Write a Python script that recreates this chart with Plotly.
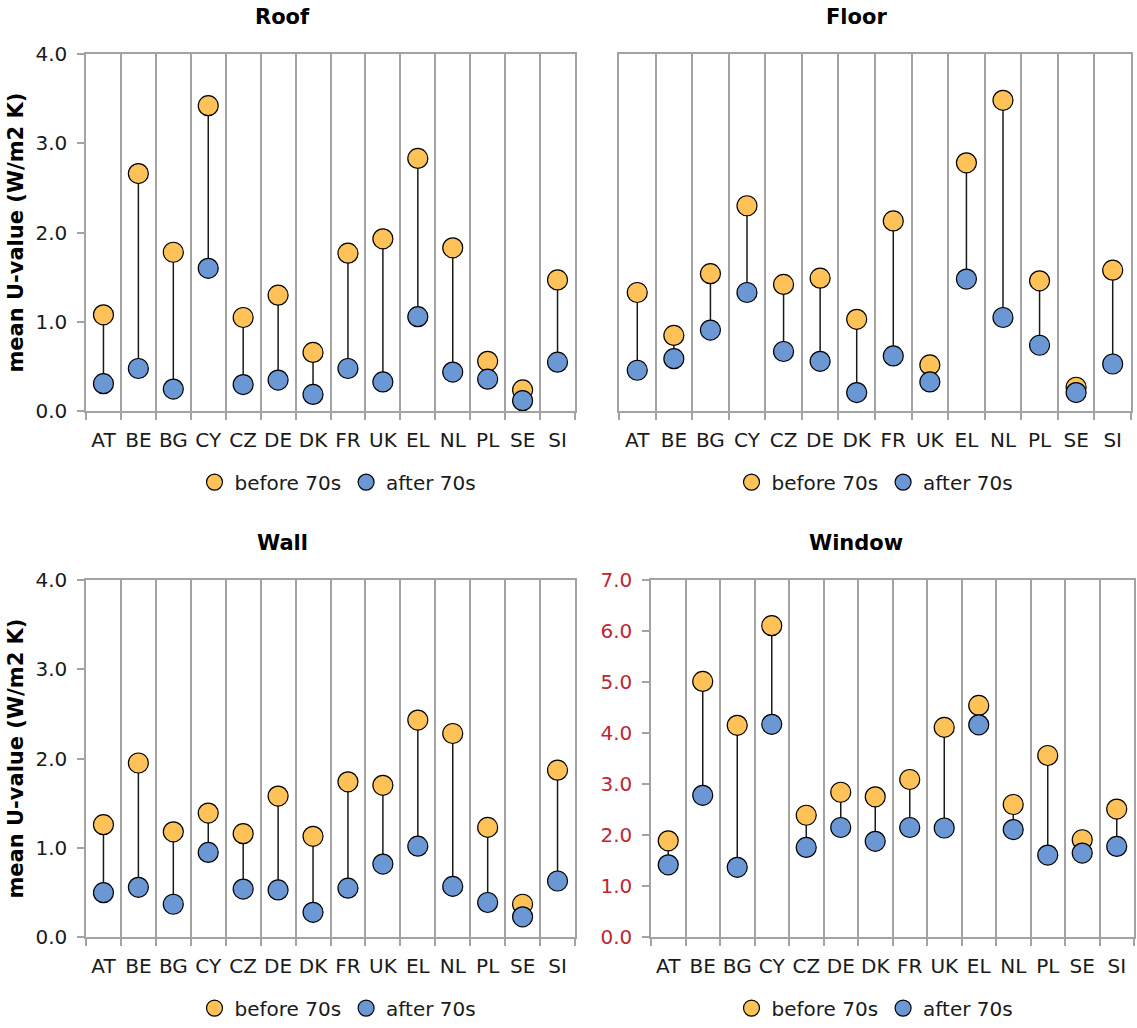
import plotly.graph_objects as go

# Mean U-values (W/m2 K) of building elements, by country and construction period
countries = ["AT", "BE", "BG", "CY", "CZ", "DE", "DK", "FR", "UK", "EL", "NL", "PL", "SE", "SI"]

roof_before = [1.08, 2.66, 1.78, 3.42, 1.05, 1.30, 0.66, 1.77, 1.93, 2.83, 1.83, 0.56, 0.24, 1.47]
roof_after = [0.31, 0.48, 0.25, 1.60, 0.30, 0.35, 0.19, 0.48, 0.33, 1.06, 0.44, 0.36, 0.12, 0.55]

floor_before = [1.33, 0.85, 1.54, 2.30, 1.42, 1.49, 1.03, 2.13, 0.52, 2.78, 3.48, 1.46, 0.27, 1.58]
floor_after = [0.46, 0.59, 0.91, 1.33, 0.67, 0.56, 0.21, 0.62, 0.33, 1.48, 1.05, 0.74, 0.21, 0.53]

wall_before = [1.26, 1.95, 1.18, 1.39, 1.16, 1.58, 1.13, 1.74, 1.70, 2.43, 2.28, 1.23, 0.37, 1.87]
wall_after = [0.50, 0.56, 0.37, 0.95, 0.54, 0.53, 0.28, 0.55, 0.82, 1.02, 0.57, 0.39, 0.23, 0.63]

window_before = [1.89, 5.01, 4.15, 6.10, 2.39, 2.84, 2.75, 3.09, 4.11, 4.54, 2.60, 3.56, 1.91, 2.51]
window_after = [1.42, 2.78, 1.37, 4.17, 1.76, 2.15, 1.88, 2.15, 2.14, 4.16, 2.11, 1.61, 1.65, 1.78]

W, H = 1137, 1028
FONT = "DejaVu Sans, Verdana, sans-serif"
ORANGE = "#FFC259"
BLUE = "#6B97D5"
GRID = "#A3A3A3"
RED = "#BE2535"
TXT = "#1a1a1a"


def px_x(p):
    return p / W


def px_y(p):
    return 1 - p / H


# panel name, before, after, x pixel span, y pixel span, y max, show y labels, tick colour, legend centre
panels = [
    ("Roof", roof_before, roof_after, (86, 575), (54, 413), 4, True, TXT, 338),
    ("Floor", floor_before, floor_after, (619, 1131), (54, 413), 4, False, TXT, 875),
    ("Wall", wall_before, wall_after, (86, 575), (582, 941), 4, True, TXT, 338),
    ("Window", window_before, window_after, (651, 1134), (582, 941), 7, True, RED, 875),
]

fig = go.Figure()
layout = dict(
    width=W, height=H, autosize=False,
    margin=dict(l=0, r=0, t=0, b=0),
    paper_bgcolor="white", plot_bgcolor="white",
    font=dict(family=FONT, size=20, color=TXT),
    annotations=[],
)

for i, (name, before, after, (x0, x1), (y0, y1), ymax, showy, tcol, lgx) in enumerate(panels):
    n = i + 1
    xa = "x" if n == 1 else f"x{n}"
    ya = "y" if n == 1 else f"y{n}"
    lg = "legend" if n == 1 else f"legend{n}"

    # connector from after-70s value up to before-70s value
    cx, cy = [], []
    for c, b, a in zip(countries, before, after):
        cx += [c, c, None]
        cy += [a, b, None]
    fig.add_trace(go.Scatter(
        x=cx, y=cy, mode="lines", xaxis=xa, yaxis=ya,
        line=dict(color="#1a1a1a", width=1.5), showlegend=False, hoverinfo="skip",
    ))
    fig.add_trace(go.Scatter(
        x=countries, y=before, mode="markers", name="before 70s", xaxis=xa, yaxis=ya,
        legend=lg,
        marker=dict(size=20, color=ORANGE, line=dict(color="#000000", width=1.2)),
    ))
    fig.add_trace(go.Scatter(
        x=countries, y=after, mode="markers", name="after 70s", xaxis=xa, yaxis=ya,
        legend=lg,
        marker=dict(size=20, color=BLUE, line=dict(color="#000000", width=1.2)),
    ))

    xkey = "xaxis" if n == 1 else f"xaxis{n}"
    ykey = "yaxis" if n == 1 else f"yaxis{n}"
    layout[xkey] = dict(
        domain=[px_x(x0), px_x(x1)], anchor=ya,
        type="category", categoryorder="array", categoryarray=countries,
        range=[-0.5, len(countries) - 0.5],
        tickson="boundaries", ticks="outside", ticklen=7, tickcolor=GRID, tickwidth=1.5,
        showgrid=True, gridcolor=GRID, gridwidth=1.5,
        showline=True, linecolor=GRID, linewidth=1.5, mirror=True,
        tickangle=0,
        tickfont=dict(family=FONT, size=20, color=TXT),
        ticklabelstandoff=10, automargin=False, fixedrange=True,
    )
    layout[ykey] = dict(
        domain=[px_y(y1), px_y(y0)], anchor=xa,
        range=[0, ymax], dtick=1, tickformat=".1f",
        showgrid=False, zeroline=False,
        showline=True, linecolor=GRID, linewidth=1.5, mirror=True,
        ticks="outside" if showy else "", ticklen=7, tickcolor=GRID, tickwidth=1.5,
        showticklabels=showy,
        tickfont=dict(family=FONT, size=20, color=tcol),
        ticklabelstandoff=6, automargin=False, fixedrange=True,
    )
    layout[lg] = dict(
        orientation="h", xref="paper", yref="paper",
        x=px_x(lgx), y=px_y((y1 + 71)), xanchor="center", yanchor="middle",
        font=dict(family=FONT, size=20, color=TXT),
        bgcolor="rgba(0,0,0,0)", itemwidth=30, tracegroupgap=0,
    )

    # chart title
    cx_title = 282 if x0 < 500 else 856
    layout["annotations"].append(dict(
        text=f"<b>{name}</b>", xref="paper", yref="paper",
        x=px_x(cx_title), y=px_y(y0 - 37), xanchor="center", yanchor="middle",
        showarrow=False, font=dict(family=FONT, size=21, color="#000000"),
    ))
    # y-axis title on the left-hand panels
    if x0 < 500:
        layout["annotations"].append(dict(
            text="<b>mean U-value (W/m2 K)</b>", xref="paper", yref="paper",
            x=px_x(16), y=px_y((y0 + y1) / 2), xanchor="center", yanchor="middle",
            textangle=-90, showarrow=False,
            font=dict(family=FONT, size=21, color="#000000"),
        ))

fig.update_layout(**layout)
fig.write_html("out.html")
